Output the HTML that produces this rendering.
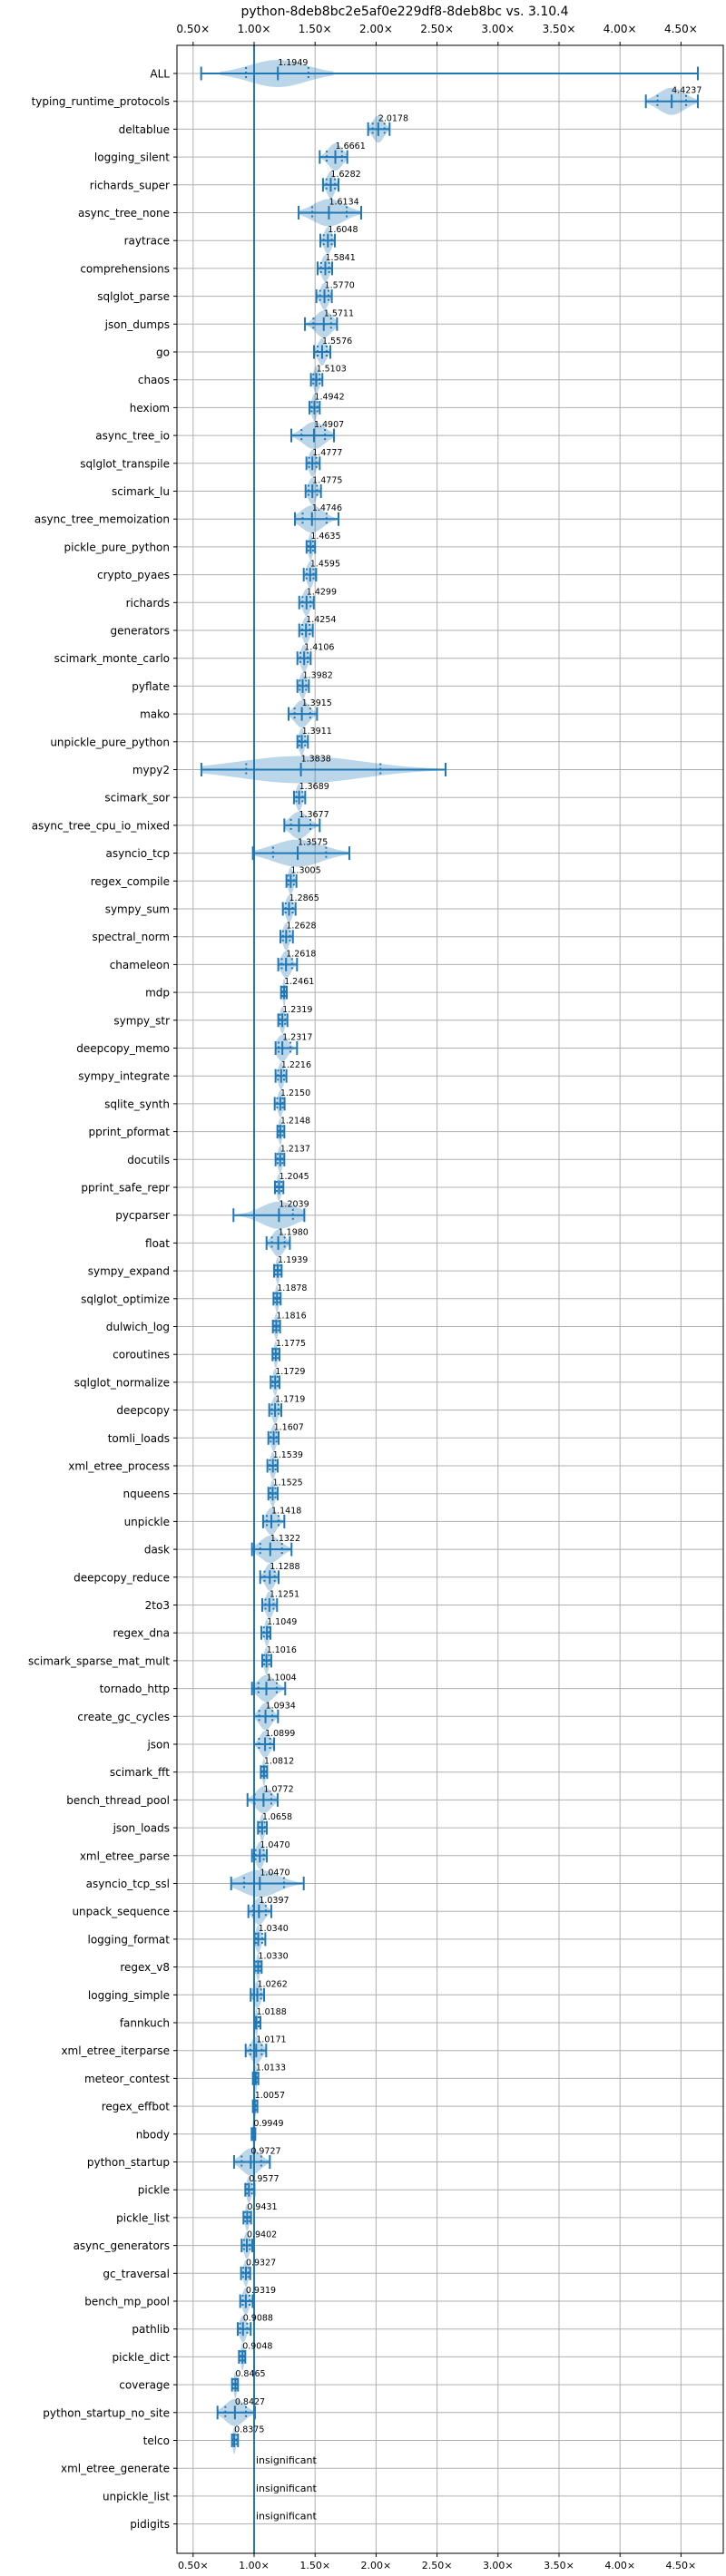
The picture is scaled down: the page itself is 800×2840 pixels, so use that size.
<!DOCTYPE html>
<html><head><meta charset="utf-8"><style>
html,body{margin:0;padding:0;background:#fff}
svg{display:block}
text{font-family:"DejaVu Sans","Liberation Sans",sans-serif}
</style></head><body>
<svg id="chart" width="800" height="2840" viewBox="0 0 800 2840" xmlns="http://www.w3.org/2000/svg">
<text x="446" y="17" font-size="14" text-anchor="middle" fill="#000">python-8deb8bc2e5af0e229df8-8deb8bc vs. 3.10.4</text>
<g id="grid"></g><g id="marks"></g><g id="labels"></g>
<rect x="195" y="50" width="602" height="2765" fill="none" stroke="#000" stroke-width="1"/>
</svg>
<script>
const names=["ALL","typing_runtime_protocols","deltablue","logging_silent","richards_super","async_tree_none","raytrace","comprehensions","sqlglot_parse","json_dumps","go","chaos","hexiom","async_tree_io","sqlglot_transpile","scimark_lu","async_tree_memoization","pickle_pure_python","crypto_pyaes","richards","generators","scimark_monte_carlo","pyflate","mako","unpickle_pure_python","mypy2","scimark_sor","async_tree_cpu_io_mixed","asyncio_tcp","regex_compile","sympy_sum","spectral_norm","chameleon","mdp","sympy_str","deepcopy_memo","sympy_integrate","sqlite_synth","pprint_pformat","docutils","pprint_safe_repr","pycparser","float","sympy_expand","sqlglot_optimize","dulwich_log","coroutines","sqlglot_normalize","deepcopy","tomli_loads","xml_etree_process","nqueens","unpickle","dask","deepcopy_reduce","2to3","regex_dna","scimark_sparse_mat_mult","tornado_http","create_gc_cycles","json","scimark_fft","bench_thread_pool","json_loads","xml_etree_parse","asyncio_tcp_ssl","unpack_sequence","logging_format","regex_v8","logging_simple","fannkuch","xml_etree_iterparse","meteor_contest","regex_effbot","nbody","python_startup","pickle","pickle_list","async_generators","gc_traversal","bench_mp_pool","pathlib","pickle_dict","coverage","python_startup_no_site","telco","xml_etree_generate","unpickle_list","pidigits"];
const medians=[1.1949,4.4237,2.0178,1.6661,1.6282,1.6134,1.6048,1.5841,1.5770,1.5711,1.5576,1.5103,1.4942,1.4907,1.4777,1.4775,1.4746,1.4635,1.4595,1.4299,1.4254,1.4106,1.3982,1.3915,1.3911,1.3838,1.3689,1.3677,1.3575,1.3005,1.2865,1.2628,1.2618,1.2461,1.2319,1.2317,1.2216,1.2150,1.2148,1.2137,1.2045,1.2039,1.1980,1.1939,1.1878,1.1816,1.1775,1.1729,1.1719,1.1607,1.1539,1.1525,1.1418,1.1322,1.1288,1.1251,1.1049,1.1016,1.1004,1.0934,1.0899,1.0812,1.0772,1.0658,1.0470,1.0470,1.0397,1.0340,1.0330,1.0262,1.0188,1.0171,1.0133,1.0057,0.9949,0.9727,0.9577,0.9431,0.9402,0.9327,0.9319,0.9088,0.9048,0.8465,0.8427,0.8375,null,null,null];
const lows=[0.566,4.212,1.935,1.538,1.565,1.365,1.543,1.521,1.511,1.417,1.491,1.466,1.454,1.305,1.429,1.422,1.335,1.430,1.407,1.370,1.370,1.355,1.355,1.283,1.355,0.568,1.327,1.248,0.990,1.265,1.236,1.216,1.198,1.221,1.198,1.176,1.176,1.169,1.191,1.176,1.171,0.831,1.102,1.164,1.159,1.154,1.151,1.136,1.124,1.117,1.109,1.117,1.074,0.983,1.050,1.067,1.060,1.067,0.983,1.000,1.000,1.055,0.946,1.032,0.983,0.812,0.953,1.003,1.003,0.972,1.003,0.931,0.990,0.990,0.980,0.836,0.928,0.913,0.898,0.893,0.886,0.866,0.876,0.819,0.700,0.819,null,null,null];
const highs=[4.638,4.638,2.111,1.764,1.692,1.878,1.662,1.640,1.637,1.680,1.625,1.560,1.538,1.655,1.538,1.548,1.692,1.500,1.509,1.489,1.481,1.464,1.449,1.516,1.441,2.570,1.419,1.538,1.781,1.347,1.340,1.318,1.352,1.268,1.273,1.352,1.265,1.250,1.248,1.248,1.240,1.412,1.293,1.226,1.218,1.213,1.208,1.208,1.223,1.201,1.193,1.193,1.248,1.307,1.201,1.188,1.134,1.141,1.255,1.196,1.164,1.107,1.193,1.104,1.104,1.407,1.141,1.092,1.062,1.082,1.052,1.099,1.035,1.027,1.010,1.129,1.003,0.975,0.985,0.968,0.988,0.972,0.928,0.868,1.007,0.868,null,null,null];
const xTicks=[0.5,1.0,1.5,2.0,2.5,3.0,3.5,4.0,4.5];
const xTickLabels=["0.50×","1.00×","1.50×","2.00×","2.50×","3.00×","3.50×","4.00×","4.50×"];

const NS="http://www.w3.org/2000/svg";
const X0=195,X1=797,Y0=50,Y1=2815;
function xs(v){return 280+(v-1)*134.4;}
function ys(i){return 81+i*30.7;}
function mk(tag,attrs,parent){const e=document.createElementNS(NS,tag);for(const k in attrs)e.setAttribute(k,attrs[k]);parent.appendChild(e);return e;}
const grid=document.getElementById('grid'),marks=document.getElementById('marks'),labels=document.getElementById('labels');
const C="#1f77b4";

xTicks.forEach((t,k)=>{
  const x=xs(t);
  const gl=mk('line',{x1:x,x2:x,y1:Y0,y2:Y1,stroke:"#b0b0b0","stroke-width":1},grid);
  
  
  [[Y0,Y0-4,36],[Y1,Y1+4,2832]].forEach(([a,b,ty],j)=>{
    const tk=mk('line',{x1:x,x2:x,y1:a,y2:b,stroke:"#000"},grid);
    
    
    const tl=mk('text',{x:x,y:ty,"font-size":j?"11":"12","text-anchor":"middle",fill:"#000"},labels);
    tl.textContent=xTickLabels[k];
    
    
  });
});
names.forEach((n,i)=>{
  const y=ys(i);
  const gl=mk('line',{x1:X0,x2:X1,y1:y,y2:y,stroke:"#b0b0b0","stroke-width":1},grid);
  
  
  const tk=mk('line',{x1:X0-4,x2:X0,y1:y,y2:y,stroke:"#000"},grid);
  
  
  const tl=mk('text',{x:X0-8,y:y+4.5,"font-size":"12","text-anchor":"end",fill:"#000"},labels);
  tl.textContent=n;
  
  
});
// reference line at 1.0
const ref=mk('line',{x1:xs(1),x2:xs(1),y1:Y0,y2:Y1,stroke:C,"stroke-width":2},marks);



names.forEach((n,i)=>{
  const y=ys(i),m=medians[i];
  if(m===null){
    const t=mk('text',{x:xs(1)+2,y:y-5,"font-size":"11",fill:"#000"},labels);
    t.textContent="insignificant";
    
    
    return;
  }
  const lo=lows[i],hi=highs[i];
  const g=mk('g',{},marks);
  
  
  // body
  let blo=lo,bhi=hi;
  if(i===0){blo=0.72;bhi=1.65;}
  const s=Math.max((bhi-blo)/4,0.004);
  const pts=[];const N=40;
  for(let k=0;k<=N;k++){const v=blo+(bhi-blo)*k/N;const h=15*Math.exp(-0.5*Math.pow((v-m)/s,2));pts.push([xs(v),h]);}
  let d="M"+pts.map(p=>p[0].toFixed(1)+","+(y-p[1]).toFixed(1)).join(" L");
  d+=" L"+pts.slice().reverse().map(p=>p[0].toFixed(1)+","+(y+p[1]).toFixed(1)).join(" L")+"Z";
  const body=mk('path',{d:d,fill:C,"fill-opacity":0.3,stroke:"none"},g);
  
  
  const wl=mk('line',{x1:xs(lo),x2:xs(hi),y1:y,y2:y,stroke:C,"stroke-width":2},g);
  
  
  [lo,m,hi].forEach((v,j)=>{
    const c=mk('line',{x1:xs(v),x2:xs(v),y1:y-7.5,y2:y+7.5,stroke:C,"stroke-width":2},g);
    
    
  });
  const q1=m-(m-blo)*0.55,q3=m+(bhi-m)*0.55;
  [q1,q3].forEach(v=>{
    const q=mk('line',{x1:xs(v),x2:xs(v),y1:y-7,y2:y+7,stroke:C,"stroke-width":2,"stroke-dasharray":"2,3"},g);
    
    
  });
  const t=mk('text',{x:xs(m),y:y-9,"font-size":"9.5",fill:"#000"},labels);
  t.textContent=m.toFixed(4);
  
  
});
</script>
</body></html>
